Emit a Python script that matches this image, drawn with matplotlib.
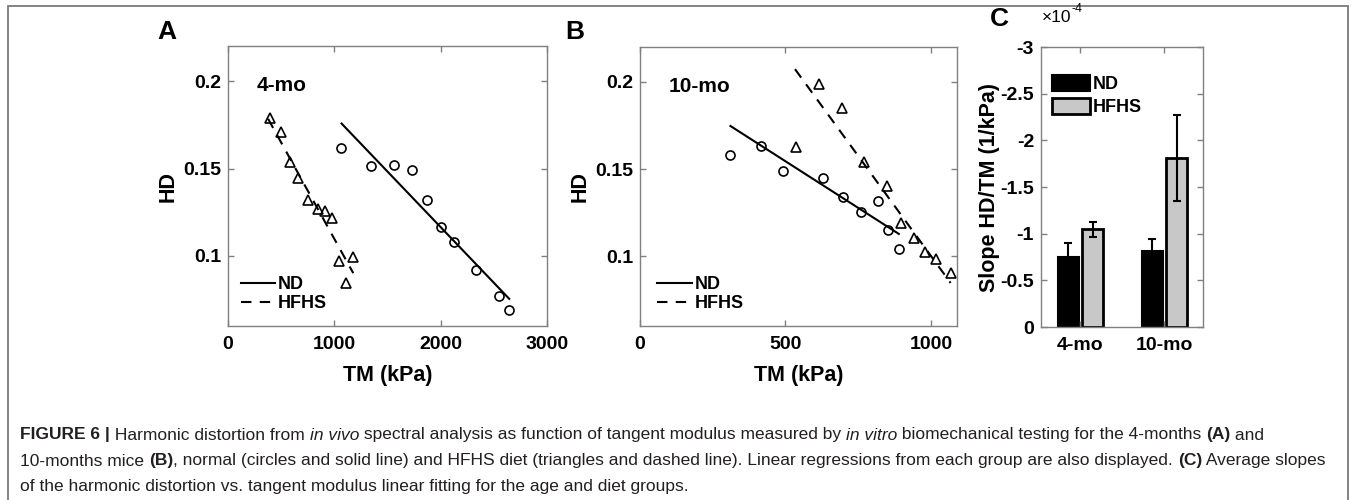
import numpy as np
import matplotlib.pyplot as plt
from matplotlib.patches import Rectangle

plt.rcParams['font.family'] = ['Liberation Sans', 'DejaVu Sans']

# Panel A, 4-mo: circles = ND, triangles = HFHS
a_nd_tm = [1062, 1341, 1558, 1734, 1875, 2007, 2130, 2331, 2548, 2645]
a_nd_hd = [0.1616, 0.1514, 0.1520, 0.1493, 0.1319, 0.1168, 0.1082, 0.0920, 0.0769, 0.0692]
a_hf_tm = [396, 503, 584, 663, 754, 845, 911, 974, 1040, 1178, 1106]
a_hf_hd = [0.1788, 0.1711, 0.1540, 0.1448, 0.1322, 0.1268, 0.1255, 0.1216, 0.0970, 0.0993, 0.0848]
a_nd_fit_tm = [1068, 2645]
a_nd_fit_hd = [0.1757, 0.0755]
a_hf_fit_tm = [377, 1178]
a_hf_fit_hd = [0.1784, 0.0902]

# Panel B, 10-mo
b_nd_tm = [309, 415, 492, 630, 697, 760, 820, 854, 892]
b_nd_hd = [0.1582, 0.1630, 0.1488, 0.1448, 0.1337, 0.1251, 0.1316, 0.1151, 0.1042]
b_hf_tm = [616, 696, 535, 771, 849, 897, 943, 979, 1017, 1068]
b_hf_hd = [0.1987, 0.1850, 0.1624, 0.1540, 0.1402, 0.1190, 0.1107, 0.1027, 0.0985, 0.0904]
b_nd_fit_tm = [311, 890]
b_nd_fit_hd = [0.1747, 0.1128]
b_hf_fit_tm = [533, 1068]
b_hf_fit_hd = [0.2073, 0.0847]

# Panel C, mean slopes (x 1e-4 1/kPa)
groups = ['4-mo', '10-mo']
slope_nd = [-0.75, -0.81]
slope_nd_err = [0.155, 0.13]
slope_hf = [-1.045, -1.815]
slope_hf_err = [0.08, 0.46]

fig = plt.figure(figsize=(13.54, 5.0), dpi=100)
W, H = 1354.0, 500.0

def px_axes(x0, y0, x1, y1):
    return fig.add_axes([x0 / W, 1 - y1 / H, (x1 - x0) / W, (y1 - y0) / H])

spine_col = '#808080'
tick_fs = 14
lab_fs = 15.5

def style(ax):
    for s in ax.spines.values():
        s.set_color(spine_col)
        s.set_linewidth(1.0)
    ax.tick_params(direction='in', length=4, width=1, color=spine_col,
                   top=True, right=True, labelsize=tick_fs, labelcolor='black')
    ax.tick_params(axis='x', pad=7)
    ax.tick_params(axis='y', pad=5)
    for lab in ax.get_xticklabels() + ax.get_yticklabels():
        lab.set_fontweight('bold')

def scatter_panel(ax, nd_x, nd_y, hf_x, hf_y, fnx, fny, fhx, fhy, xlim, xticks, tag, lx):
    ax.plot(fnx, fny, color='black', lw=1.5, label='ND')
    ax.plot(fhx, fhy, color='black', lw=1.5, ls=(0, (5, 4)), label='HFHS')
    ax.plot(nd_x, nd_y, ls='none', marker='o', ms=6.5, mfc='none', mec='black', mew=1.2)
    ax.plot(hf_x, hf_y, ls='none', marker='^', ms=7, mfc='none', mec='black', mew=1.2)
    ax.set_xlim(*xlim)
    ax.set_ylim(0.06, 0.22)
    ax.set_xticks(xticks)
    ax.set_yticks([0.1, 0.15, 0.2])
    ax.set_yticklabels(['0.1', '0.15', '0.2'])
    ax.set_xlabel('TM (kPa)', fontsize=lab_fs, fontweight='bold', labelpad=9)
    ax.set_ylabel('HD', fontsize=lab_fs, fontweight='bold', labelpad=3)
    ax.text(0.09, 0.86, tag, transform=ax.transAxes, fontsize=15, fontweight='bold',
            va='center', ha='left')
    ax.legend(loc='lower left', bbox_to_anchor=(lx, 0.05), frameon=False,
              handlelength=1.9, handletextpad=0.15, labelspacing=0.1,
              borderpad=0, borderaxespad=0,
              prop={'size': 13, 'weight': 'bold'})
    style(ax)

axA = px_axes(228, 46, 547, 326)
scatter_panel(axA, a_nd_tm, a_nd_hd, a_hf_tm, a_hf_hd,
              a_nd_fit_tm, a_nd_fit_hd, a_hf_fit_tm, a_hf_fit_hd,
              (0, 3000), [0, 1000, 2000, 3000], '4-mo', 0.04)

axB = px_axes(640, 47, 957, 326)
scatter_panel(axB, b_nd_tm, b_nd_hd, b_hf_tm, b_hf_hd,
              b_nd_fit_tm, b_nd_fit_hd, b_hf_fit_tm, b_hf_fit_hd,
              (0, 1090), [0, 500, 1000], '10-mo', 0.055)

# Panel C
axC = px_axes(1041, 47, 1203, 327)
xc = np.arange(1, len(groups) + 1)
off, bw = 0.145, 0.245
axC.bar(xc - off, slope_nd, bw, color='black', edgecolor='black', lw=1.5, label='ND')
axC.bar(xc + off, slope_hf, bw, color='#c8c8c8', edgecolor='black', lw=2, label='HFHS')
axC.errorbar(xc - off, slope_nd, yerr=slope_nd_err, fmt='none', ecolor='black',
             elinewidth=1.5, capsize=3, capthick=1.5)
axC.errorbar(xc + off, slope_hf, yerr=slope_hf_err, fmt='none', ecolor='black',
             elinewidth=1.5, capsize=3, capthick=1.5)
axC.set_xlim(0.53, 2.46)
axC.set_ylim(0, -3)
yt = [0, -0.5, -1, -1.5, -2, -2.5, -3]
axC.set_yticks(yt)
axC.set_yticklabels(['0', '-0.5', '-1', '-1.5', '-2', '-2.5', '-3'])
axC.set_xticks(xc)
axC.set_xticklabels(groups)
axC.set_ylabel('Slope HD/TM (1/kPa)', fontsize=lab_fs, fontweight='bold', labelpad=0.5)
# exponent label, drawn as two runs
t10 = fig.text(1042 / W, 1 - 17 / H, '\u00d710', fontsize=12.5, va='center', ha='left')
renderer = fig.canvas.get_renderer()
bb10 = t10.get_window_extent(renderer)
fig.text(bb10.x1 / W, 1 - 9 / H, '-4', fontsize=9, va='center', ha='left')
axC.legend(loc='upper left', bbox_to_anchor=(0.07, 0.9), frameon=False,
           handlelength=2.1, handleheight=0.95, handletextpad=0.15, labelspacing=0.3,
           borderpad=0, borderaxespad=0, prop={'size': 13, 'weight': 'bold'})
style(axC)

# panel letters
fig.text(167 / W, 1 - 32 / H, 'A', fontsize=19, fontweight='bold', ha='center', va='center')
fig.text(575 / W, 1 - 32 / H, 'B', fontsize=19, fontweight='bold', ha='center', va='center')
fig.text(999 / W, 1 - 19 / H, 'C', fontsize=19, fontweight='bold', ha='center', va='center')

# outer frame
fig.patches.append(Rectangle((8 / W, -0.1), (1348 - 8) / W, 1.1 - 6 / H,
                             transform=fig.transFigure, fill=False,
                             edgecolor='#7a7a7a', lw=1.3))

# caption, built from runs of differently styled text
cap_fs = 12.5
cap_lines = [
    [('FIGURE 6 |', 'bold', 'normal'), (' Harmonic distortion from ', 'normal', 'normal'),
     ('in vivo', 'normal', 'italic'),
     (' spectral analysis as function of tangent modulus measured by ', 'normal', 'normal'),
     ('in vitro', 'normal', 'italic'),
     (' biomechanical testing for the 4-months ', 'normal', 'normal'),
     ('(A)', 'bold', 'normal'), (' and', 'normal', 'normal')],
    [('10-months mice ', 'normal', 'normal'), ('(B)', 'bold', 'normal'),
     (', normal (circles and solid line) and HFHS diet (triangles and dashed line). '
      'Linear regressions from each group are also displayed. ', 'normal', 'normal'),
     ('(C)', 'bold', 'normal'), (' Average slopes', 'normal', 'normal')],
    [('of the harmonic distortion vs. tangent modulus linear fitting for the age and diet groups.',
      'normal', 'normal')],
]
cap_y = [435, 461, 486]
for runs, yy in zip(cap_lines, cap_y):
    x = 20.0
    for txt, wt, st in runs:
        t = fig.text(x / W, 1 - yy / H, txt, fontsize=cap_fs, fontweight=wt, style=st,
                     ha='left', va='center', color='#231f20')
        bb = t.get_window_extent(renderer)
        x = bb.x1

fig.savefig('out.png', dpi=100)
